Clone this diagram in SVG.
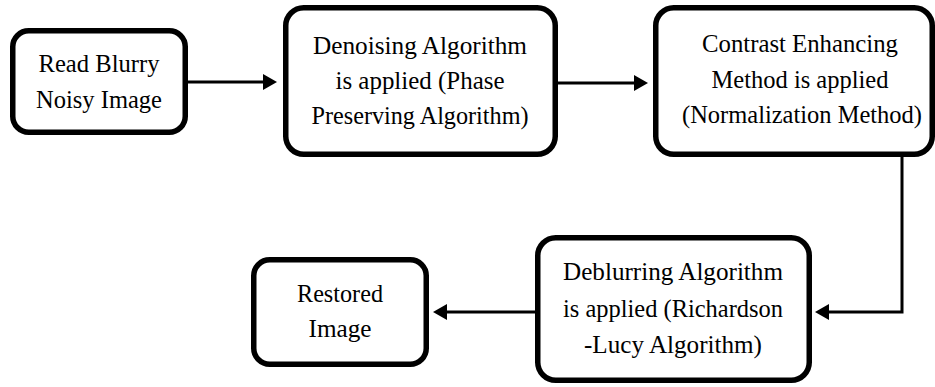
<svg xmlns="http://www.w3.org/2000/svg" width="935" height="387" viewBox="0 0 935 387">
  <style>
    .box { fill: #fff; stroke: #000; stroke-width: 5.5; }
    .lbl { font-family: "Liberation Serif", "DejaVu Serif", "Noto Serif", "Times New Roman", serif; font-size: 25px; fill: #000; text-anchor: middle; }
    .conn { fill: none; stroke: #000; stroke-width: 3; }
  </style>
  <defs>
    <marker id="arrow" markerUnits="userSpaceOnUse" markerWidth="14" markerHeight="16" refX="2" refY="8" orient="auto">
      <path d="M0,0 L14,8 L0,16 z" fill="#000"/>
    </marker>
  </defs>
  <rect width="935" height="387" fill="#fff"/>

  <g id="connectors">
    <line class="conn" x1="188" y1="82" x2="265" y2="82" marker-end="url(#arrow)"/>
    <line class="conn" x1="558" y1="83" x2="636" y2="83" marker-end="url(#arrow)"/>
    <path class="conn" d="M902,157 V312 H827" marker-end="url(#arrow)"/>
    <line class="conn" x1="535" y1="312" x2="445" y2="312" marker-end="url(#arrow)"/>
  </g>

  <g id="read">
    <rect class="box" x="12.75" y="30.75" width="172.5" height="101.5" rx="16"/>
    <text class="lbl" x="99" y="72" textLength="121" lengthAdjust="spacingAndGlyphs">Read Blurry</text>
    <text class="lbl" x="99" y="108" textLength="126" lengthAdjust="spacingAndGlyphs">Noisy Image</text>
  </g>

  <g id="denoise">
    <rect class="box" x="285.75" y="7.75" width="269.5" height="146.5" rx="18"/>
    <text class="lbl" x="420" y="54" textLength="214" lengthAdjust="spacingAndGlyphs">Denoising Algorithm</text>
    <text class="lbl" x="420" y="89" textLength="169" lengthAdjust="spacingAndGlyphs">is applied (Phase</text>
    <text class="lbl" x="420" y="124" textLength="217" lengthAdjust="spacingAndGlyphs">Preserving Algorithm)</text>
  </g>

  <g id="contrast">
    <rect class="box" x="655.75" y="7.75" width="276.5" height="146.5" rx="18"/>
    <text class="lbl" x="800" y="52" textLength="196" lengthAdjust="spacingAndGlyphs">Contrast Enhancing</text>
    <text class="lbl" x="800" y="88" textLength="177" lengthAdjust="spacingAndGlyphs">Method is applied</text>
    <text class="lbl" x="802" y="123" textLength="240" lengthAdjust="spacingAndGlyphs">(Normalization Method)</text>
  </g>

  <g id="deblur">
    <rect class="box" x="537.75" y="237.75" width="271.5" height="142.5" rx="18"/>
    <text class="lbl" x="673" y="280" textLength="220" lengthAdjust="spacingAndGlyphs">Deblurring Algorithm</text>
    <text class="lbl" x="673" y="317" textLength="220" lengthAdjust="spacingAndGlyphs">is applied (Richardson</text>
    <text class="lbl" x="673" y="353" textLength="178" lengthAdjust="spacingAndGlyphs">-Lucy Algorithm)</text>
  </g>

  <g id="restored">
    <rect class="box" x="253.75" y="259.75" width="172.5" height="104.5" rx="16"/>
    <text class="lbl" x="340" y="302" textLength="86" lengthAdjust="spacingAndGlyphs">Restored</text>
    <text class="lbl" x="340" y="337" textLength="63" lengthAdjust="spacingAndGlyphs">Image</text>
  </g>
</svg>
